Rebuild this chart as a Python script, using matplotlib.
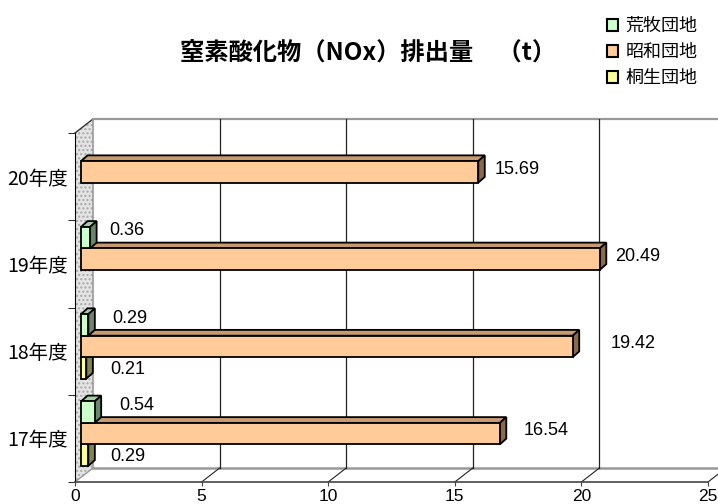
import numpy as np
import matplotlib
matplotlib.use('Agg')
import matplotlib.pyplot as plt
from matplotlib.patches import Polygon, Patch

plt.rcParams['font.family'] = ['Noto Sans CJK JP', 'DejaVu Sans']

years = ['17年度', '18年度', '19年度', '20年度']
series = ['荒牧団地', '昭和団地', '桐生団地']
aramaki = [0.54, 0.29, 0.36, np.nan]
showa = [16.54, 19.42, 20.49, 15.69]
kiryu = [0.29, 0.21, np.nan, np.nan]
values = [aramaki, showa, kiryu]
x_ticks = [0, 5, 10, 15, 20, 25]

face_col = ['#ccffcc', '#ffcc99', '#ffff99']
top_col = ['#a6cfa6', '#c89a70', '#cccc7a']
side_col = ['#6b876b', '#8a6a4c', '#84844e']

# the value labels were moved by hand in the original, gap to bar end in px
label_gap = [[18, 17, 13, 0], [17, 31, 9, 10], [15, 17, 0, 0]]
label_dy = [4, 0, -4]

fig = plt.figure(figsize=(7.18, 5.04), dpi=100)
ax = fig.add_axes([75 / 718, 22 / 504, 633 / 718, 349 / 504])
ax.set_xlim(0, 25)
ax.set_ylim(-0.5, 3.5)

# pixel -> data helpers for the fake 3d depth
px_x = 633 / 25
px_y = 349 / 4
def dep(dx, dy):
    return dx / px_x, dy / px_y

DX, DY = dep(18, 14)       # wall depth
SX, SY = dep(6, 4.7)       # bar front offset
BX, BY = dep(6.5, 5.8)     # bar depth
bh = 21.5 / px_y

# back wall + floor + side wall
ax.add_patch(Polygon([(DX, -0.5 + DY), (25 + DX, -0.5 + DY), (25 + DX, 3.5 + DY), (DX, 3.5 + DY)],
                     closed=True, facecolor='white', edgecolor='none', clip_on=False, zorder=0))
ax.add_patch(Polygon([(0, -0.5), (DX, -0.5 + DY), (DX, 3.5 + DY), (0, 3.5)], closed=True,
                     facecolor='#e4e4e4', edgecolor='#a8a8a8', hatch='....', linewidth=0,
                     clip_on=False, zorder=1))
ax.plot([0, DX], [3.5, 3.5 + DY], color='#333333', lw=1, clip_on=False, zorder=2)
ax.plot([0, DX], [-0.5, -0.5 + DY], color='#999999', lw=1, clip_on=False, zorder=2)
ax.plot([DX, 25 + DX], [3.5 + DY, 3.5 + DY], color='#999999', lw=1.6, clip_on=False, zorder=2)
ax.plot([DX, DX], [-0.5 + DY, 3.5 + DY], color='#999999', lw=1.2, clip_on=False, zorder=2)
ax.plot([DX, 25 + DX], [-0.5 + DY, -0.5 + DY], color='#999999', lw=1.8, clip_on=False, zorder=2)
for v in x_ticks[1:]:
    ax.plot([v + DX, v + DX], [-0.5 + DY, 3.5 + DY], color='#222222', lw=0.9, clip_on=False, zorder=2)
    ax.plot([v, v + DX], [-0.5, -0.5 + DY], color='#222222', lw=0.8, clip_on=False, zorder=2)

# bars, lower ones first so the upper front faces cover their top faces
z = 3
for i in range(len(years)):
    for j in [2, 1, 0]:
        v = values[j][i]
        if np.isnan(v):
            continue
        yc = i + (1 - j) * bh
        y0 = yc - bh / 2 + SY
        y1 = yc + bh / 2 + SY
        x0 = SX
        x1 = v + SX
        kw = dict(closed=True, edgecolor='black', linewidth=1.3, joinstyle='miter', clip_on=False, zorder=z)
        ax.add_patch(Polygon([(x0, y1), (x1, y1), (x1 + BX, y1 + BY), (x0 + BX, y1 + BY)],
                             facecolor=top_col[j], **kw))
        ax.add_patch(Polygon([(x1, y0), (x1 + BX, y0 + BY), (x1 + BX, y1 + BY), (x1, y1)],
                             facecolor=side_col[j], **kw))
        ax.add_patch(Polygon([(x0, y0), (x1, y0), (x1, y1), (x0, y1)],
                             facecolor=face_col[j], **kw))
        z += 1
        ax.annotate(f'{v:.2f}', xy=(x1 + BX, yc + SY + BY / 2), xytext=(label_gap[j][i], label_dy[j]),
                    textcoords='offset pixels', ha='left', va='center', fontsize=13,
                    family='Liberation Sans', zorder=20)

# axes
for s in ['top', 'right']:
    ax.spines[s].set_visible(False)
ax.spines['left'].set_color('black')
ax.spines['left'].set_zorder(2)
ax.spines['bottom'].set_color('#444444')
ax.spines['bottom'].set_linewidth(1.2)
ax.set_xticks(x_ticks)
ax.set_xticklabels([str(t) for t in x_ticks], fontsize=12.5, family='Liberation Sans')
ax.tick_params(axis='x', length=3, pad=2, color='#444444')
ax.set_yticks(range(len(years)))
ax.set_yticklabels(years, fontsize=14)
ax.set_yticks(np.arange(-0.5, 4, 1), minor=True)
ax.tick_params(axis='y', which='major', length=0, pad=5)
ax.tick_params(axis='y', which='minor', length=5, color='black')
ax.patch.set_alpha(0)

fig.text(368 / 718, 1 - 53 / 504, '窒素酸化物（NOx）排出量　（t）', ha='center', va='center',
         fontsize=17.5, fontweight='bold')

handles = [Patch(facecolor=c, edgecolor='black', linewidth=1.5) for c in face_col]
fig.legend(handles, series, loc='upper left', bbox_to_anchor=(600 / 718, 1 - 10 / 504),
           frameon=False, fontsize=13, handlelength=0.6, handleheight=0.6,
           handletextpad=0.4, labelspacing=0.45, borderaxespad=0)

fig.savefig('out.png', dpi=100)
